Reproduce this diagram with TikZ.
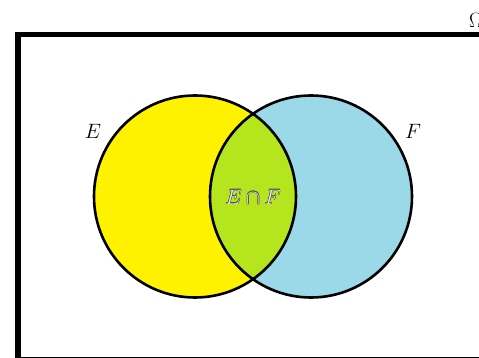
\documentclass[tikz,border=0pt]{standalone}
\definecolor{eyellow}{RGB}{255,242,0}
\definecolor{fblue}{RGB}{155,216,232}
\definecolor{efgreen}{RGB}{181,229,29}
\tikzset{
  setcircle/.style={line width=2.6pt, draw=black},
  setlabel/.style={font=\fontsize{22}{24}\selectfont, inner sep=0pt},
}
\begin{document}
\begin{tikzpicture}[x=1pt,y=1pt]
\useasboundingbox (0,0) rectangle (479,-358);
\clip (0,0) rectangle (479,-358);
\fill[white] (0,0) rectangle (479,-358);
% universe rectangle
\coordinate (rtl) at (18,-34.5);
\coordinate (rbr) at (520,-359.5);
\draw[line width=5.6pt] (rtl) rectangle (rbr);
\node[setlabel, anchor=west] (omega) at (469,-20) {$\Omega$};
% circles
\coordinate (ce) at (195,-196.5);
\coordinate (cf) at (311,-196.5);
\fill[eyellow] (ce) circle (101);
\fill[fblue] (cf) circle (101);
\begin{scope}
  \clip (ce) circle (101);
  \fill[efgreen] (cf) circle (101);
\end{scope}
\draw[setcircle] (ce) circle (101);
\draw[setcircle] (cf) circle (101);
\node[setlabel] (elab) at (93,-131) {$E$};
\node[setlabel] (flab) at (413,-131) {$F$};
% intersection label with outline
\foreach \dx/\dy in {0.4/0,-0.4/0,0/0.4,0/-0.4,0.3/0.3,-0.3/0.3,0.3/-0.3,-0.3/-0.3}{
  \node[setlabel, text=black!70] at (253+\dx,-197+\dy) {$E\cap F$};
}
\node[setlabel, text=white!90!black] (ef) at (253,-197) {$E\cap F$};
\end{tikzpicture}
\end{document}
